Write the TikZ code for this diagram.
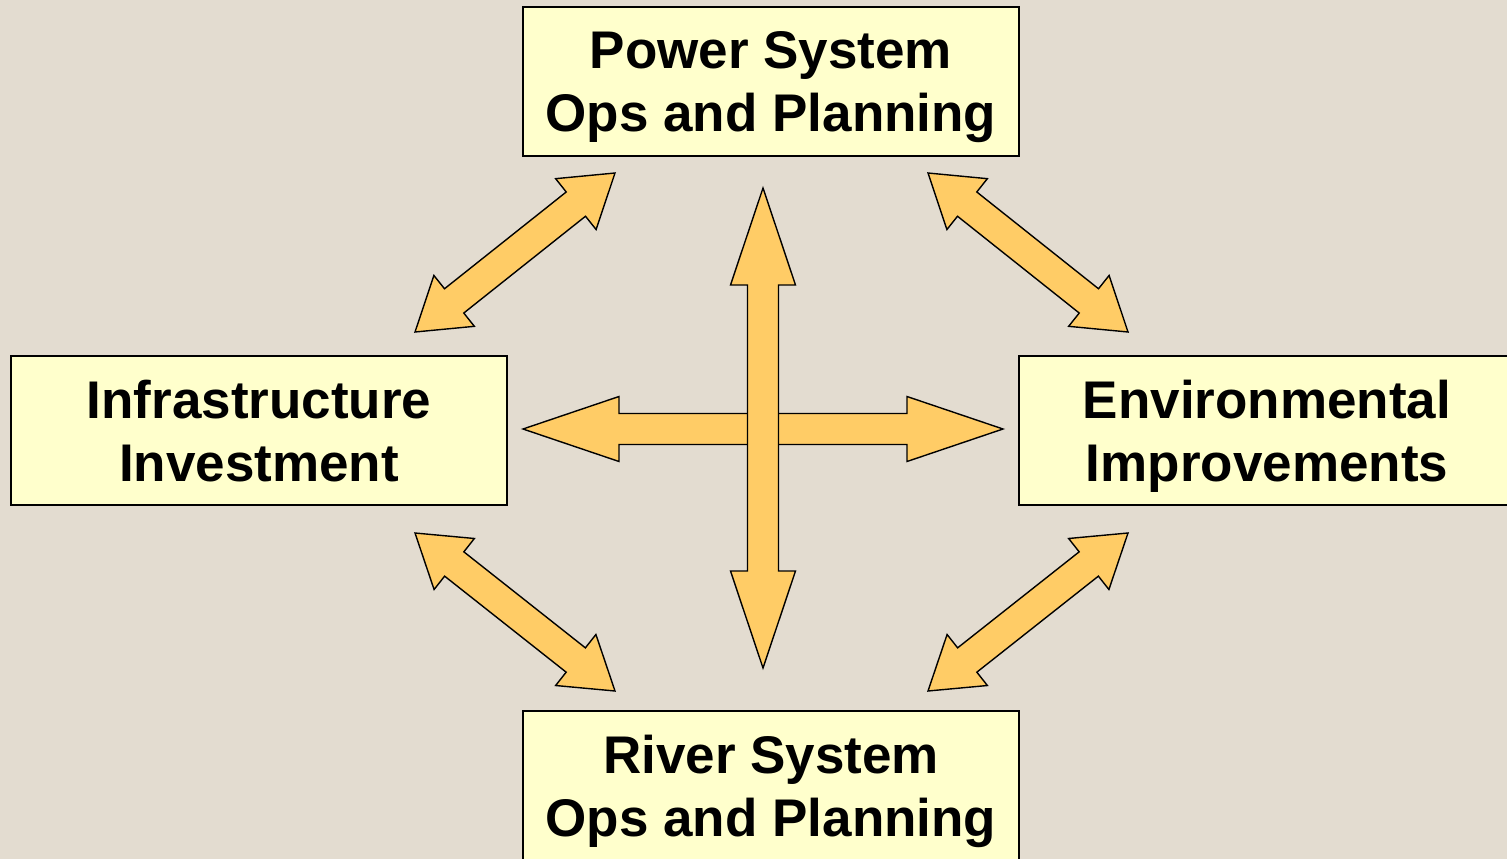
\documentclass[tikz,border=0pt]{standalone}
\usepackage{fontspec}
\setmainfont{Liberation Sans}
\usetikzlibrary{calc}
\definecolor{bg}{RGB}{227,220,208}
\definecolor{boxfill}{RGB}{255,255,204}
\definecolor{arrowfill}{RGB}{255,204,102}
\tikzset{
  topicbox/.style={draw=black, line width=1.3pt, fill=boxfill, minimum width=496pt, minimum height=149pt,
    align=center, inner sep=0pt, text depth=-3pt, font=\bfseries\fontsize{53}{63}\selectfont},
  fatarrow/.style={draw=black, line width=1.4pt, fill=arrowfill, line join=miter},
}
% #1 start, #2 end, #3 head length
\newcommand\dblarrow[3]{%
  \coordinate (h1) at ($(#1)!#3!(#2)$);
  \coordinate (h2) at ($(#2)!#3!(#1)$);
  \draw[fatarrow] (#1) -- ($(h1)!32.5pt!90:(#2)$) -- ($(h1)!15.5pt!90:(#2)$)
    -- ($(h2)!15.5pt!90:(#2)$) -- ($(h2)!32.5pt!90:(#2)$) -- (#2)
    -- ($(h2)!32.5pt!-90:(#2)$) -- ($(h2)!15.5pt!-90:(#2)$)
    -- ($(h1)!15.5pt!-90:(#2)$) -- ($(h1)!32.5pt!-90:(#2)$) -- cycle;
}
\begin{document}
\begin{tikzpicture}[x=1pt,y=-1pt]
\useasboundingbox (0,0) rectangle (1507,859);
\fill[bg] (0,0) rectangle (1507,859);

\node[topicbox] (power) at (771,81.5) {Power System\\Ops and Planning};
\node[topicbox] (infra) at (259,430.5) {Infrastructure\\Investment};
\node[topicbox] (env) at (1267,430.5) {Environmental\\Improvements};
\node[topicbox] (river) at (771,785.5) {River System\\Ops and Planning};

% arrow end points
\coordinate (tlA) at (415,332);
\coordinate (tlB) at (615,173);
\coordinate (trA) at (928,173);
\coordinate (trB) at (1128,332);
\coordinate (blA) at (415,533);
\coordinate (blB) at (615,691);
\coordinate (brA) at (928,691);
\coordinate (brB) at (1128,533);
\coordinate (hA) at (523,429);
\coordinate (hB) at (1003,429);
\coordinate (vA) at (763,188);
\coordinate (vB) at (763,668);

\dblarrow{tlA}{tlB}{50pt}
\dblarrow{trA}{trB}{50pt}
\dblarrow{blA}{blB}{50pt}
\dblarrow{brA}{brB}{50pt}
\dblarrow{hA}{hB}{96pt}
\dblarrow{vA}{vB}{97pt}
\end{tikzpicture}
\end{document}
